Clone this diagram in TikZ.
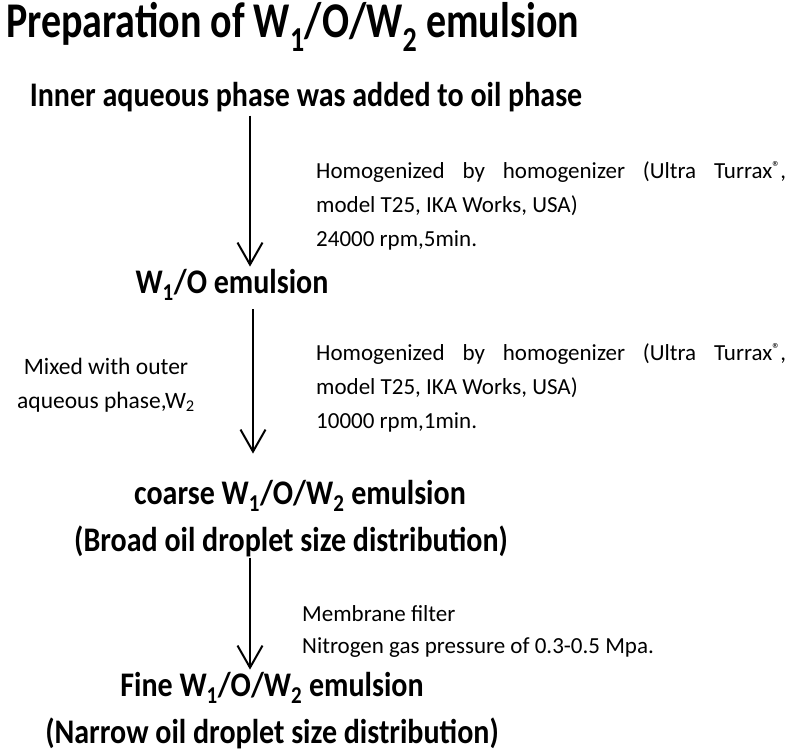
\documentclass[tikz,border=0pt]{standalone}
\usepackage{fontspec}
\setmainfont{Carlito}
\newfontfamily\titlefam{Carlito}[FakeStretch=0.8]
\newfontfamily\stagefam{Carlito}[FakeStretch=0.87]
\usetikzlibrary{arrows.meta}
\newcommand{\regmark}{{\fontsize{16}{16}\selectfont\raisebox{6pt}{\textregistered}}}
\tikzset{
  titletext/.style={font=\titlefam\fontsize{50}{56}\selectfont\bfseries, inner sep=0pt, anchor=base west},
  stage/.style={font=\stagefam\fontsize{34.5}{40}\selectfont\bfseries, inner sep=0pt, anchor=base},
  note/.style={font=\fontsize{23}{28}\selectfont, inner sep=0pt, anchor=base west},
  sidenote/.style={font=\fontsize{23.5}{28}\selectfont, inner sep=0pt, anchor=base},
  flow/.style={line width=2pt, -{Straight Barb[length=22pt,width=25pt,line width=2pt]}}
}
\begin{document}
\begin{tikzpicture}[x=1pt,y=-1pt]
\useasboundingbox (0,0) rectangle (789,755);
% columns of the arrows
\coordinate (c1) at (250,0);
\coordinate (c2) at (253,0);
\coordinate (c3) at (250,0);

\node[titletext] (title) at (6,37) {Preparation of W\textsubscript{1}/O/W\textsubscript{2} emulsion};

\node[stage] (inner) at (306,106) {Inner aqueous phase was added to oil phase};

\node[note] (h1a) at (316,178) {\makebox[470pt][s]{Homogenized by homogenizer (Ultra Turrax\regmark,}};
\node[note] (h1b) at (316,212) {model T25, IKA Works, USA)};
\node[note] (h1c) at (316,246) {24000 rpm,5min.};

\node[stage] (w1o) at (232,293) {W\textsubscript{1}/O emulsion};

\node[sidenote] (m1) at (106,374) {Mixed with outer};
\node[sidenote] (m2) at (106,408) {aqueous phase,W\textsubscript{2}};

\node[note] (h2a) at (316,360) {\makebox[470pt][s]{Homogenized by homogenizer (Ultra Turrax\regmark,}};
\node[note] (h2b) at (316,394) {model T25, IKA Works, USA)};
\node[note] (h2c) at (316,428) {10000 rpm,1min.};

\node[stage] (coarse) at (300,504) {coarse W\textsubscript{1}/O/W\textsubscript{2} emulsion};
\node[stage] (broad) at (291,551) {(Broad oil droplet size distribution)};

\node[note] (mf) at (302,621) {Membrane filter};
\node[note] (ng) at (302,653) {Nitrogen gas pressure of 0.3-0.5 Mpa.};

\node[stage] (fine) at (272,696) {Fine W\textsubscript{1}/O/W\textsubscript{2} emulsion};
\node[stage] (narrow) at (272,743) {(Narrow oil droplet size distribution)};

\draw[flow, shorten <=4pt, shorten >=2pt] (inner.south -| c1) -- (w1o.north -| c1);
\draw[flow, shorten <=9pt, shorten >=26pt] (w1o.south -| c2) -- (coarse.north -| c2);
\draw[flow, shorten <=1pt, shorten >=2pt] (broad.south -| c3) -- (fine.north -| c3);
\end{tikzpicture}
\end{document}
